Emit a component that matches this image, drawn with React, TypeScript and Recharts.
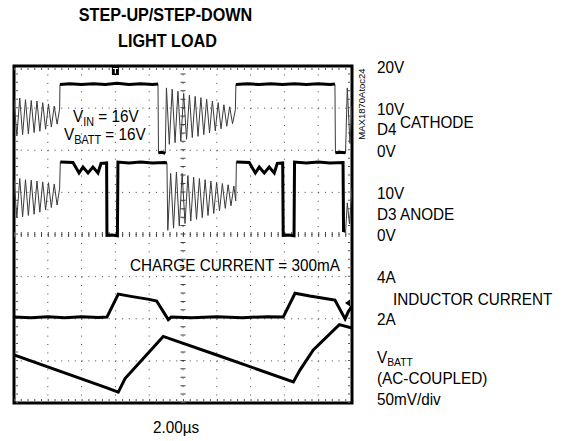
import React from 'react';
import {
  LineChart,
  Line,
  XAxis,
  YAxis,
  CartesianGrid,
  ReferenceLine,
  ReferenceArea,
  ReferenceDot,
  Customized,
} from 'recharts';

// ---------- axes / ticks ----------
const timeTicksUs = [0, 2, 4, 6, 8, 10, 12, 14, 16, 18, 20];
const divisionTicks = [0, 1, 2, 3, 4, 5, 6, 7, 8];
const scaleTickDivs = [8, 7, 6, 5, 4, 3, 2];
const scaleTickLabels = ['20V', '10V', '0V', '10V', '0V', '4A', '2A'];

// ---------- traces: [time µs, value] ----------
// D4 cathode, volts (10V/div)
const d4Cathode: [number, number][] = [
  [0, 12.0], [0.17, 3.4], [0.34, 12.4], [0.51, 3.7], [0.68, 12.0], [0.85, 3.9], [1.02, 11.8], [1.19, 4.2],
  [1.36, 11.7], [1.53, 4.5], [1.7, 11.3], [1.87, 5.0], [2.04, 11.0], [2.21, 5.5], [2.38, 10.5], [2.55, 6.2],
  [2.7, 9.8],
  [2.72, 15.6], [3.3, 15.8], [4.0, 15.6], [4.7, 15.8], [5.4, 15.6], [6.1, 15.9], [6.8, 15.6], [7.5, 15.8],
  [8.2, 15.6], [8.52, 15.7],
  [8.55, -0.6], [8.75, -0.5], [8.95, -0.7],
  [9.02, 14.8], [9.19, 1.4], [9.36, 14.5], [9.53, 1.8], [9.7, 14.0], [9.87, 2.2], [10.04, 13.5], [10.21, 2.6],
  [10.38, 13.1], [10.55, 3.0], [10.72, 12.8], [10.89, 3.3], [11.06, 12.5], [11.23, 3.7], [11.4, 12.1],
  [11.57, 4.1], [11.74, 11.7], [11.91, 4.6], [12.08, 11.3], [12.25, 5.1], [12.42, 10.8], [12.59, 5.7],
  [12.76, 10.3], [12.93, 6.3], [13.1, 9.6],
  [13.13, 15.6], [13.8, 15.8], [14.5, 15.6], [15.2, 15.8], [15.9, 15.6], [16.6, 15.8], [17.3, 15.6],
  [18.0, 15.8], [18.7, 15.6], [18.99, 15.7],
  [19.02, -0.6], [19.3, -0.5], [19.62, -0.6],
  [19.72, 14.8], [19.88, 1.6], [20.0, 10.5],
];
const d4ThickSpans: [number, number][] = [[2.72, 8.52], [8.55, 8.95], [13.13, 18.99], [19.02, 19.62]];

// D3 anode, volts (10V/div)
const d3Anode: [number, number][] = [
  [0, 13.0], [0.17, 4.0], [0.34, 13.3], [0.51, 4.2], [0.68, 13.0], [0.85, 4.5], [1.02, 12.9], [1.19, 4.8],
  [1.36, 12.7], [1.53, 5.3], [1.7, 12.5], [1.87, 5.8], [2.04, 12.3], [2.21, 6.4], [2.38, 12.0], [2.55, 7.0],
  [2.7, 11.0],
  [2.74, 17.2], [3.49, 17.1], [3.85, 14.6], [4.08, 16.0], [4.38, 14.6], [4.67, 16.0], [4.97, 14.6],
  [5.15, 16.9], [5.48, 17.0],
  [5.5, -0.2], [5.8, -0.1], [6.12, -0.3],
  [6.15, 17.2], [6.8, 17.0], [7.5, 17.2], [8.2, 17.0], [8.9, 17.1], [9.05, 17.0],
  [9.1, 1.0], [9.27, 14.5], [9.44, 1.5], [9.61, 14.8], [9.78, 2.0], [9.95, 14.5], [10.12, 2.6], [10.29, 14.0],
  [10.46, 3.2], [10.63, 13.6], [10.8, 3.6], [10.97, 13.3], [11.14, 4.0], [11.31, 13.0], [11.48, 4.5],
  [11.65, 12.7], [11.82, 5.0], [11.99, 12.4], [12.16, 5.6], [12.33, 12.1], [12.5, 6.2], [12.67, 11.8],
  [12.84, 6.8], [13.01, 11.5], [13.12, 8.0],
  [13.16, 17.2], [13.92, 17.1], [14.28, 14.6], [14.51, 16.0], [14.81, 14.6], [15.1, 16.0], [15.4, 14.6],
  [15.58, 16.9], [15.9, 17.0],
  [15.93, -0.2], [16.25, -0.1], [16.57, -0.3],
  [16.6, 17.2], [17.3, 17.0], [18.0, 17.2], [18.7, 17.0], [19.47, 17.1],
  [19.5, 0.6], [19.62, 0.5], [19.72, 7.5], [19.85, 2.5], [20.0, 11.0],
];
const d3ThickSpans: [number, number][] = [[2.74, 9.05], [13.16, 19.5]];

// Inductor current, amps (2A/div)
const inductorCurrent: [number, number][] = [
  [0, 2.08], [1.0, 2.05], [2.0, 2.1], [3.0, 2.05], [4.0, 2.1], [5.0, 2.06], [5.5, 2.08],
  [6.17, 3.17], [7.0, 3.05], [8.0, 2.92], [8.44, 2.84], [9.13, 1.96], [9.3, 2.08],
  [10.5, 2.05], [12.0, 2.1], [13.5, 2.05], [15.0, 2.1], [15.93, 2.08],
  [16.63, 3.21], [17.5, 3.08], [18.5, 2.95], [18.99, 2.89], [19.59, 1.99], [19.78, 2.33], [20.0, 2.6],
];

// VBATT, AC-coupled, mV (50mV/div)
const vBattMv: [number, number][] = [
  [0, 7], [5.5, -32], [6.17, -37], [6.57, -21], [8.83, 29], [12.0, 7], [16.53, -25], [16.92, -11],
  [17.71, 13], [19.25, 43], [20.0, 39],
];

const FONT = "'Liberation Sans', Arial, Helvetica, sans-serif";

const toPts = (arr: [number, number][]) => arr.map(([t, v]) => ({ t, v }));
const spanSegments = (arr: [number, number][], spans: [number, number][]) =>
  spans.map(([a, b]) => toPts(arr.filter(([t]) => t >= a && t <= b)));

function Txt({ x, y, size = 17, sx = 0.9, anchor = 'start', bold = false, children }: any) {
  return (
    <text
      transform={`translate(${x} ${y}) scale(${sx} 1)`}
      fontSize={size}
      textAnchor={anchor}
      fontWeight={bold ? 'bold' : 'normal'}
      fill="#000"
      fontFamily={FONT}
    >
      {children}
    </text>
  );
}

function ScaleTick(props: any) {
  const { x, y, payload } = props;
  const idx = scaleTickDivs.indexOf(payload.value);
  return (
    <Txt x={x} y={y + 6.5}>
      {scaleTickLabels[idx]}
    </Txt>
  );
}

function Annotations() {
  return (
    <g>
      <Txt x={165.5} y={21} size={18} sx={0.9} anchor="middle" bold>STEP-UP/STEP-DOWN</Txt>
      <Txt x={167.5} y={46.5} size={18} sx={0.9} anchor="middle" bold>LIGHT LOAD</Txt>

      <Txt x={73} y={122}>
        V<tspan fontSize={12} dy={4}>IN</tspan>
        <tspan dy={-4}> = 16V</tspan>
      </Txt>
      <Txt x={64} y={140}>
        V<tspan fontSize={12} dy={4}>BATT</tspan>
        <tspan dy={-4}> = 16V</tspan>
      </Txt>
      <Txt x={130} y={271}>CHARGE CURRENT = 300mA</Txt>
      <Txt x={176} y={433} anchor="middle">2.00µs</Txt>

      <text transform="translate(365 104) rotate(-90)" fontSize={9.5} textAnchor="middle" fontFamily={FONT} fill="#000">
        MAX1870Atoc24
      </text>

      <Txt x={377} y={135}>D4</Txt>
      <Txt x={400} y={128}>CATHODE</Txt>
      <Txt x={377} y={220}>D3 ANODE</Txt>
      <Txt x={393} y={305}>INDUCTOR CURRENT</Txt>
      <Txt x={377} y={363}>
        V<tspan fontSize={11.5} dy={2.5}>BATT</tspan>
      </Txt>
      <Txt x={377} y={384}>(AC-COUPLED)</Txt>
      <Txt x={377} y={405}>50mV/div</Txt>
    </g>
  );
}

const TriggerT = (p: any) => {
  const { cx, cy } = p;
  return (
    <g>
      <rect x={cx - 3.5} y={cy} width={7} height={9} fill="#000" />
      <path d={`M${cx - 2.5},${cy + 2.5}h5M${cx},${cy + 2.5}v5`} stroke="#fff" strokeWidth={1.2} />
    </g>
  );
};

const TriggerArrow = (p: any) => {
  const { cx, cy } = p;
  return <path d={`M${cx - 7},${cy}L${cx - 2},${cy - 3.5}L${cx - 2},${cy + 3.5}Z`} fill="#000" />;
};

export default function App() {
  const thin = { dot: false, isAnimationActive: false, type: 'linear' as const, dataKey: 'v' };
  return (
    <div style={{ position: 'absolute', left: 0, top: 0, width: 565, height: 441, background: '#fff' }}>
      <LineChart width={565} height={441} margin={{ top: 66, left: 14, right: 153, bottom: 38 }}>
        <XAxis dataKey="t" type="number" domain={[0, 20]} ticks={timeTicksUs} hide allowDataOverflow />
        <YAxis yAxisId="grid" type="number" domain={[0, 8]} ticks={divisionTicks} hide allowDataOverflow />
        <YAxis
          yAxisId="scale"
          orientation="right"
          type="number"
          domain={[0, 8]}
          ticks={scaleTickDivs}
          interval={0}
          axisLine={false}
          tickLine={false}
          tickSize={0}
          tickMargin={25}
          width={60}
          tick={<ScaleTick />}
          allowDataOverflow
        />
        <YAxis yAxisId="d4" type="number" domain={[-60, 20]} hide allowDataOverflow />
        <YAxis yAxisId="d3" type="number" domain={[-40, 40]} hide allowDataOverflow />
        <YAxis yAxisId="iL" type="number" domain={[-2, 14]} hide allowDataOverflow />
        <YAxis yAxisId="vb" type="number" domain={[-50, 350]} hide allowDataOverflow />

        <CartesianGrid yAxisId="grid" vertical={false} stroke="#444" strokeDasharray="1 5.76" />
        <CartesianGrid yAxisId="grid" horizontal={false} stroke="#444" strokeDasharray="1 7.425" />
        <ReferenceLine yAxisId="grid" x={10} stroke="#444" strokeWidth={5} strokeDasharray="1 7.425" />
        <ReferenceLine yAxisId="grid" y={4} stroke="#444" strokeWidth={5} strokeDasharray="1 5.76" />
        <ReferenceLine yAxisId="grid" y={7.93} stroke="#555" strokeWidth={2} strokeDasharray="1 5.76" />
        <ReferenceLine yAxisId="grid" y={0.07} stroke="#555" strokeWidth={2} strokeDasharray="1 5.76" />
        <ReferenceLine yAxisId="grid" x={0.18} stroke="#555" strokeWidth={2} strokeDasharray="1 7.425" />
        <ReferenceLine yAxisId="grid" x={19.82} stroke="#555" strokeWidth={2} strokeDasharray="1 7.425" />

        <Line yAxisId="d4" data={toPts(d4Cathode)} stroke="#3a3a3a" strokeWidth={1} {...thin} />
        {spanSegments(d4Cathode, d4ThickSpans).map((seg, i) => (
          <Line key={'d4t' + i} yAxisId="d4" data={seg} stroke="#000" strokeWidth={3} {...thin} />
        ))}
        <Line yAxisId="d3" data={toPts(d3Anode)} stroke="#3a3a3a" strokeWidth={1} {...thin} />
        {spanSegments(d3Anode, d3ThickSpans).map((seg, i) => (
          <Line key={'d3t' + i} yAxisId="d3" data={seg} stroke="#000" strokeWidth={3} {...thin} />
        ))}
        <Line yAxisId="iL" data={toPts(inductorCurrent)} stroke="#000" strokeWidth={3} {...thin} />
        <Line yAxisId="vb" data={toPts(vBattMv)} stroke="#000" strokeWidth={3} {...thin} />

        <ReferenceArea
          yAxisId="grid"
          x1={0}
          x2={20}
          y1={0}
          y2={8}
          fill="none"
          fillOpacity={0}
          stroke="#000"
          strokeWidth={3}
          strokeOpacity={1}
        />
        <ReferenceDot yAxisId="grid" x={6} y={8} shape={TriggerT} />
        <ReferenceDot yAxisId="iL" x={20} y={2.75} shape={TriggerArrow} />
        <Customized component={Annotations} />
      </LineChart>
    </div>
  );
}
